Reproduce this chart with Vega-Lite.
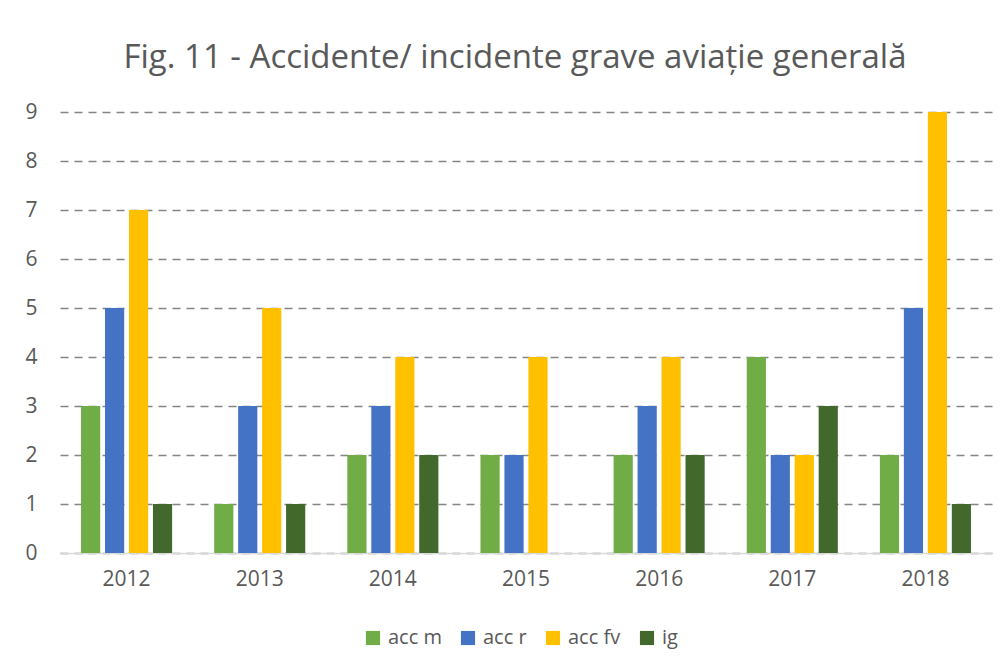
{
  "$schema": "https://vega.github.io/schema/vega-lite/v6.json",
  "autosize": "none",
  "width": 932,
  "height": 441,
  "padding": {"left": 60, "top": 112, "right": 13, "bottom": 113},
  "background": "white",
  "title": {
    "text": "Fig. 11 - Accidente/ incidente grave aviație generală",
    "font": "Open Sans",
    "fontSize": 33,
    "fontWeight": "normal",
    "color": "#595959",
    "anchor": "middle",
    "dx": -11,
    "offset": 26
  },
  "data": {
    "values": [
      {"an": "2012", "tip": "acc m", "n": 3},
      {"an": "2012", "tip": "acc r", "n": 5},
      {"an": "2012", "tip": "acc fv", "n": 7},
      {"an": "2012", "tip": "ig", "n": 1},
      {"an": "2013", "tip": "acc m", "n": 1},
      {"an": "2013", "tip": "acc r", "n": 3},
      {"an": "2013", "tip": "acc fv", "n": 5},
      {"an": "2013", "tip": "ig", "n": 1},
      {"an": "2014", "tip": "acc m", "n": 2},
      {"an": "2014", "tip": "acc r", "n": 3},
      {"an": "2014", "tip": "acc fv", "n": 4},
      {"an": "2014", "tip": "ig", "n": 2},
      {"an": "2015", "tip": "acc m", "n": 2},
      {"an": "2015", "tip": "acc r", "n": 2},
      {"an": "2015", "tip": "acc fv", "n": 4},
      {"an": "2015", "tip": "ig", "n": 0},
      {"an": "2016", "tip": "acc m", "n": 2},
      {"an": "2016", "tip": "acc r", "n": 3},
      {"an": "2016", "tip": "acc fv", "n": 4},
      {"an": "2016", "tip": "ig", "n": 2},
      {"an": "2017", "tip": "acc m", "n": 4},
      {"an": "2017", "tip": "acc r", "n": 2},
      {"an": "2017", "tip": "acc fv", "n": 2},
      {"an": "2017", "tip": "ig", "n": 3},
      {"an": "2018", "tip": "acc m", "n": 2},
      {"an": "2018", "tip": "acc r", "n": 5},
      {"an": "2018", "tip": "acc fv", "n": 9},
      {"an": "2018", "tip": "ig", "n": 1}
    ]
  },
  "mark": {"type": "bar"},
  "encoding": {
    "x": {
      "field": "an",
      "type": "nominal",
      "scale": {"paddingInner": 0.28, "paddingOuter": 0.14},
      "axis": {
        "title": null,
        "labelAngle": 0,
        "labelFont": "Open Sans",
        "labelFontSize": 21,
        "labelColor": "#595959",
        "labelPadding": 15,
        "ticks": false,
        "domainColor": "#d9d9d9",
        "domainWidth": 1.5,
        "grid": false
      }
    },
    "xOffset": {
      "field": "tip",
      "type": "nominal",
      "sort": ["acc m", "acc r", "acc fv", "ig"],
      "scale": {"paddingInner": 0.2, "paddingOuter": 0.1}
    },
    "y": {
      "field": "n",
      "type": "quantitative",
      "scale": {"domain": [0, 9], "nice": false},
      "axis": {
        "title": null,
        "values": [0, 1, 2, 3, 4, 5, 6, 7, 8, 9],
        "labelFont": "Open Sans",
        "labelFontSize": 21,
        "labelColor": "#595959",
        "labelPadding": 23,
        "ticks": false,
        "domain": false,
        "grid": true,
        "gridColor": "#858585",
        "gridWidth": 1.5,
        "gridDash": [8, 6]
      }
    },
    "color": {
      "field": "tip",
      "type": "nominal",
      "sort": ["acc m", "acc r", "acc fv", "ig"],
      "scale": {
        "domain": ["acc m", "acc r", "acc fv", "ig"],
        "range": ["#70AD47", "#4472C4", "#FFC000", "#43682B"]
      },
      "legend": {
        "title": null,
        "orient": "none",
        "direction": "horizontal",
        "legendX": 303,
        "legendY": 516,
        "symbolType": "square",
        "symbolSize": 200,
        "symbolStrokeWidth": 0,
        "symbolOpacity": 1,
        "labelFont": "Open Sans",
        "labelFontSize": 20,
        "labelColor": "#595959",
        "labelOffset": 5,
        "columnPadding": 16
      }
    }
  },
  "config": {
    "view": {"stroke": null}
  }
}
